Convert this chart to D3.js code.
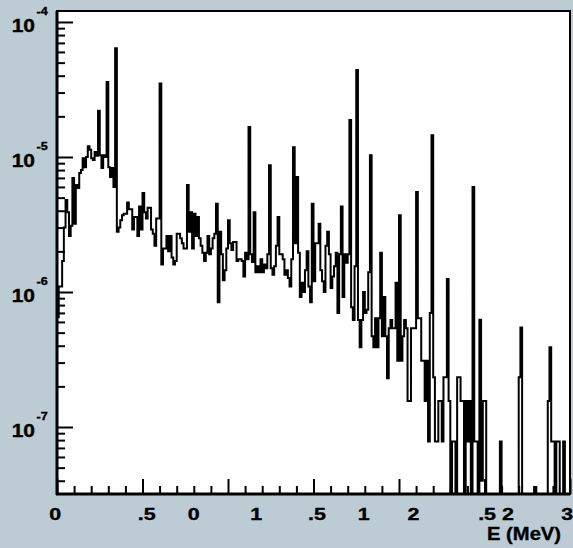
<!DOCTYPE html>
<html><head><meta charset="utf-8">
<script src="https://cdn.jsdelivr.net/npm/d3@7"></script>
<style>html,body{margin:0;padding:0;background:#bccbd4;overflow:hidden}svg{display:block}</style>
</head><body>
<script>
// ---- data ----
const energyMin = 0, energyMax = 3;          // MeV
const binCount = 300;
const counts = [
 6.5e-7,1.1e-6,1.1e-6,1.7e-6,3e-6,4.8e-6,3.9e-6,2.6e-6,3.1e-6,7e-6,
 3.2e-6,6.2e-6,5.9e-6,7.6e-6,8e-6,9.8e-6,8.4e-6,1e-5,1.2e-5,1.13e-5,
 9.8e-6,9.5e-6,1.09e-5,1.02e-5,2.2e-5,1.03e-5,8.3e-6,1.03e-5,1.0e-5,3.6e-5,
 8.4e-6,7.1e-6,8.3e-6,6e-6,6.4e-5,2.8e-6,3e-6,3.4e-6,3.7e-6,3.8e-6,
 3.8e-6,4.6e-6,4.1e-6,4.1e-6,2.9e-6,3.6e-6,3.6e-6,2.6e-6,4.3e-6,2.9e-6,
 5.4e-6,3.9e-6,3.5e-6,4.2e-6,4.2e-6,2.9e-6,2.7e-6,2.2e-6,3.5e-6,3.5e-6,
 3.5e-5,1.6e-6,2.1e-6,2.1e-6,2.6e-6,2e-6,2.6e-6,1.8e-6,1.6e-6,1.7e-6,
 2.7e-6,2.7e-6,2.5e-6,2.3e-6,2.1e-6,2.1e-6,6.2e-6,2.8e-6,3.9e-6,2.1e-6,
 3.8e-6,2.6e-6,3.6e-6,2.5e-6,2.2e-6,1.95e-6,1.7e-6,1.95e-6,2.6e-6,1.9e-6,
 2.1e-6,2.5e-6,2.7e-6,4.5e-6,8.4e-7,2.8e-6,1.9e-6,1.22e-6,1.45e-6,2.1e-6,
 3.4e-6,2.3e-6,2.05e-6,2.35e-6,2.35e-6,1.7e-6,1.75e-6,1.75e-6,1.7e-6,1.3e-6,
 1.95e-6,1.75e-6,1.67e-5,1.9e-6,1.67e-6,3.9e-6,1.4e-6,1.55e-6,1.4e-6,1.75e-6,
 1.4e-6,1.6e-6,1.5e-6,1.9e-6,8.7e-6,1.5e-6,1.34e-6,1.55e-6,2.2e-6,3.6e-6,
 1.9e-6,1.9e-6,1.75e-6,1.34e-6,1.45e-6,1.27e-6,1.1e-6,1.75e-6,1.18e-5,2.3e-6,
 7.1e-6,1.95e-6,9.2e-7,1.17e-6,1e-6,1.45e-6,2e-6,1.1e-6,8.4e-7,4.5e-6,
 1.2e-6,2.3e-6,2.3e-6,3.2e-6,1.45e-6,1.2e-6,1e-6,2.2e-6,2.8e-6,1.9e-6,
 1.07e-6,1.3e-6,1.55e-6,1.95e-6,7e-7,1.9e-6,4.3e-6,9.2e-7,1.9e-6,1.65e-6,
 1.9e-6,1.88e-5,7.7e-7,6.2e-7,1.55e-6,4.4e-5,6.2e-7,3.9e-7,6.2e-7,1e-6,
 7e-7,7.4e-7,1.4e-6,1.03e-5,4.7e-7,3.9e-7,6.4e-7,3.9e-7,6.4e-7,1.95e-6,
 4.7e-7,9.2e-7,4.7e-7,2.3e-7,5.4e-7,6.2e-7,5.4e-7,5.4e-7,1.17e-6,3.1e-7,
 3.7e-6,3.1e-7,4.7e-7,6.2e-7,5.4e-7,1.56e-7,1.56e-7,5.4e-7,5.4e-7,5.4e-7,
 5.5e-6,6.4e-7,6.4e-7,3.1e-7,3.1e-7,1.56e-7,3.1e-7,7.8e-8,7e-7,1.45e-5,
 2.34e-7,7.8e-8,7.8e-8,1.56e-7,1.56e-7,7.8e-8,2.34e-7,2.34e-7,1.25e-6,1.56e-7,
 0,7.8e-8,7.8e-8,0,2.34e-7,2.34e-7,1.56e-7,1.56e-7,0,1.56e-7,
 7.8e-8,1.56e-7,0,6e-6,7.8e-8,7.8e-8,0,6.24e-7,4e-8,1.56e-7,
 1.56e-7,0,0,0,0,0,0,0,0,7.8e-8,
 0,0,0,0,0,0,0,0,0,0,
 2.34e-7,5.46e-7,0,0,0,0,0,0,0,3.6e-8,
 0,0,0,0,0,0,0,1.56e-7,3.9e-7,7.8e-8,
 7.8e-8,0,7.8e-8,7.8e-8,0,0,7.8e-8,0,0,0
];
const yDecades = [-4, -5, -6, -7];
const xLabelText = ["0", ".5", "0", "1", ".5", "1", "2", ".5", "2", "3"];
const xLabelPos  = [-0.01, 0.524, 0.80, 1.165, 1.52, 1.794, 2.085, 2.515, 2.637, 2.984];
const xTitle = "E (MeV)";

// ---- layout ----
const W = 573, H = 548;
const frame = {left: 57, top: 11, right: 570, bottom: 494};
const yMin = 3.19e-8, yMax = 1.206e-4;
const FONT = "'Liberation Sans', Arial, Helvetica, sans-serif";

const svg = d3.select("body").append("svg").attr("width", W).attr("height", H);
svg.append("rect").attr("width", W).attr("height", H).attr("fill", "#bccbd4");

const x = d3.scaleLinear().domain([energyMin, energyMax]).range([frame.left, frame.right]);
const y = d3.scaleLog().domain([yMin, yMax]).range([frame.bottom, frame.top]);

svg.append("rect").attr("x", frame.left).attr("y", frame.top)
  .attr("width", frame.right - frame.left).attr("height", frame.bottom - frame.top)
  .attr("fill", "#fff");

svg.append("clipPath").attr("id", "clip").append("rect")
  .attr("x", frame.left).attr("y", frame.top)
  .attr("width", frame.right - frame.left).attr("height", frame.bottom - frame.top);

// histogram outline
const bw = (energyMax - energyMin) / binCount;
const yv = v => y(Math.max(v, yMin));
let pts = [[x(energyMin), frame.bottom + 2]];
counts.forEach((v, i) => {
  const yy = yv(v);
  pts.push([x(energyMin + i * bw), yy]);
  pts.push([x(energyMin + (i + 1) * bw), yy]);
});
pts.push([x(energyMax), frame.bottom + 2]);
svg.append("path").attr("clip-path", "url(#clip)")
  .attr("d", d3.line()(pts))
  .attr("fill", "none").attr("stroke", "#000").attr("stroke-width", 2)
  .attr("stroke-linejoin", "miter");

// y axis ticks (inside)
const yMajor = yDecades.map(e => Math.pow(10, e));
const yMinor = [];
for (let e = -8; e <= -4; e++) for (let m = 2; m <= 9; m++) {
  const v = m * Math.pow(10, e);
  if (v > yMin && v < yMax) yMinor.push(v);
}
svg.append("g").attr("transform", `translate(${frame.left},0)`)
  .call(d3.axisLeft(y).tickValues(yMinor).tickSize(-8).tickSizeOuter(0).tickFormat(""));
svg.append("g").attr("transform", `translate(${frame.left},0)`)
  .call(d3.axisLeft(y).tickValues(yMajor).tickSize(-16).tickSizeOuter(0).tickFormat(""));

// x axis ticks (inside)
const xMinor = d3.range(0, 31).map(i => i / 10).filter(v => Math.abs(v * 2 - Math.round(v * 2)) > 1e-6);
const xMajor = d3.range(0, 7).map(i => i / 2);
svg.append("g").attr("transform", `translate(0,${frame.bottom})`)
  .call(d3.axisBottom(x).tickValues(xMinor).tickSize(-8).tickSizeOuter(0).tickFormat(""));
svg.append("g").attr("transform", `translate(0,${frame.bottom})`)
  .call(d3.axisBottom(x).tickValues(xMajor).tickSize(-15).tickSizeOuter(0).tickFormat(""));
svg.selectAll(".domain").remove();
svg.selectAll(".tick line").attr("stroke", "#000").attr("stroke-width", 2);

// frame
svg.append("rect").attr("x", frame.left).attr("y", frame.top)
  .attr("width", frame.right - frame.left).attr("height", frame.bottom - frame.top)
  .attr("fill", "none").attr("stroke", "#000").attr("stroke-width", 2);
svg.append("line").attr("x1", frame.left).attr("x2", frame.left)
  .attr("y1", frame.top).attr("y2", frame.bottom + 1)
  .attr("stroke", "#000").attr("stroke-width", 3);
svg.append("line").attr("x1", frame.left - 1).attr("x2", frame.right)
  .attr("y1", frame.bottom).attr("y2", frame.bottom)
  .attr("stroke", "#000").attr("stroke-width", 3);

function label(px, py, txt, size, sx, anchor) {
  svg.append("g").attr("transform", `translate(${px},${py}) scale(${sx},1)`)
    .append("text").attr("x", 0).attr("y", 0).attr("text-anchor", anchor)
    .attr("font-family", FONT).attr("font-weight", "bold").attr("font-size", size)
    .attr("stroke", "#000").attr("stroke-width", 0.35)
    .text(txt);
}

// y labels
yDecades.forEach(e => {
  const yy = y(Math.pow(10, e));
  label(35, yy + 9.7, "10", 17.5, 1.2, "end");
  label(36.5, yy - 7, String(e), 10.5, 1.2, "start");
});

// x labels
xLabelText.forEach((t, i) => label(x(xLabelPos[i]), 519.5, t, 16.5, 1.3, "middle"));
label(561, 540, xTitle, 18, 1.12, "end");
</script>
</body></html>
